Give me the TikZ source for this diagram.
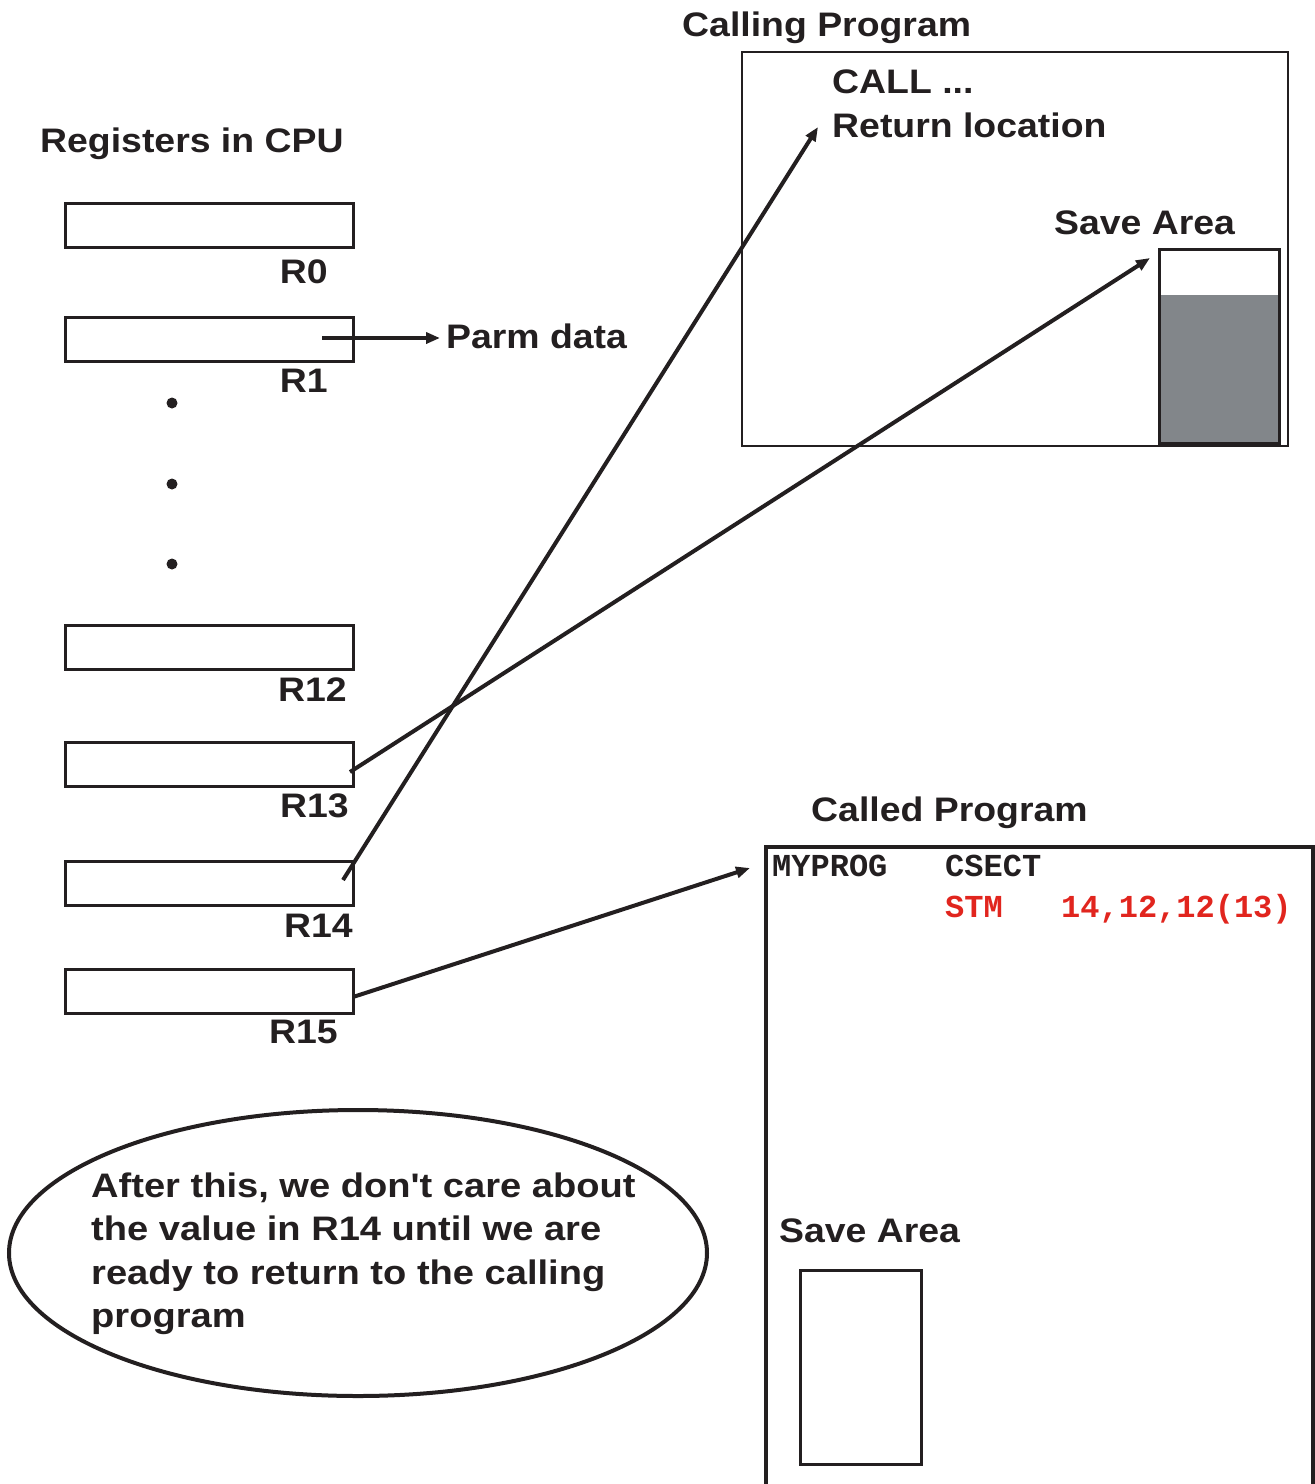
\documentclass[tikz,border=0pt]{standalone}
\usepackage{fontspec}
\setmainfont{Liberation Sans}[FakeStretch=1.1]
\newfontfamily\ellfont{Liberation Sans}[FakeStretch=1.12]
\newfontfamily\codefont{Liberation Mono}
\usetikzlibrary{arrows.meta,shapes.geometric}
\definecolor{ink}{RGB}{35,31,32}
\definecolor{codered}{RGB}{225,37,30}
\definecolor{savegray}{RGB}{130,134,138}
\begin{document}
\begin{tikzpicture}[x=1pt,y=-1pt,
  lbl/.style={inner sep=0pt, font=\fontsize{34}{40}\selectfont\bfseries, text=ink},
  code/.style={inner sep=0pt, font=\fontsize{32}{38}\selectfont\codefont\bfseries},
  reg/.style={draw=ink, line width=3pt, minimum width=288pt, minimum height=44pt, inner sep=0pt},
  conn/.style={draw=ink, line width=4pt, -{Triangle[length=14pt,width=11pt]}},
  dotmark/.style={circle, fill=ink, minimum size=11pt, inner sep=0pt}
]
\useasboundingbox (0,0) rectangle (1315,1484);

% Registers
\node[lbl, anchor=base west] (regtitle) at (40,152) {Registers in CPU};
\node[reg] (R0) at (209,225) {};
\node[reg] (R1) at (209,339.5) {};
\node[reg] (R12) at (209,647.5) {};
\node[reg] (R13) at (209,764) {};
\node[reg] (R14) at (209,883) {};
\node[reg] (R15) at (209,991) {};
\node[lbl, anchor=base east] (lR0) at (328,283) {R0};
\node[lbl, anchor=base east] (lR1) at (328,392) {R1};
\node[lbl, anchor=base east] (lR12) at (347,701) {R12};
\node[lbl, anchor=base east] (lR13) at (349,817) {R13};
\node[lbl, anchor=base east] (lR14) at (353,937) {R14};
\node[lbl, anchor=base east] (lR15) at (338,1043) {R15};
\node[dotmark] (d1) at (172,403) {};
\node[dotmark] (d2) at (172,484) {};
\node[dotmark] (d3) at (172,564) {};

% Parm data
\coordinate (r1p) at (322,338);
\coordinate (parmtip) at (440,338);
\node[lbl, anchor=base west] (parm) at (446,348) {Parm data};
\draw[conn, line width=3.5pt] (r1p) -- (parmtip);

% Calling program
\node[lbl, anchor=base west] (calltitle) at (682,36) {Calling Program};
\draw[draw=ink, line width=2.5pt] (742,52) rectangle (1288,446);
\node[lbl, anchor=base west] (callstmt) at (832,93) {CALL ...};
\node[lbl, anchor=base west] (retloc) at (832,137) {Return location};
\node[lbl, anchor=base west] (savetitle1) at (1054,234) {Save Area};
\fill[savegray] (1159,295) rectangle (1279,443);
\draw[draw=ink, line width=3pt] (1159,249) rectangle (1279,443);

% Called program
\node[lbl, anchor=base west] (calledtitle) at (811,821) {Called Program};
\draw[draw=ink, line width=3.5pt] (766,1484) -- (766,847) -- (1313,847) -- (1313,1484);
\node[code, anchor=base west, text=ink] (myprog) at (772,876) {MYPROG};
\node[code, anchor=base west, text=ink] (csect) at (945,876) {CSECT};
\node[code, anchor=base west, text=codered] (stm) at (945,917) {STM};
\node[code, anchor=base west, text=codered] (stmops) at (1061,917) {14,12,12(13)};
\node[lbl, anchor=base west] (savetitle2) at (779,1242) {Save Area};
\draw[draw=ink, line width=3pt] (800,1270) rectangle (921,1464);

% Connectors
\coordinate (r13p) at (350,772);
\coordinate (savetip) at (1150,258);
\coordinate (r14p) at (343,880);
\coordinate (rettip) at (818,127);
\coordinate (r15p) at (353,997);
\coordinate (calledtip) at (750,868);
\draw[conn] (r13p) -- (savetip);
\draw[conn] (r14p) -- (rettip);
\draw[conn] (r15p) -- (calledtip);

% Note
\node[ellipse, draw=ink, line width=4pt, minimum width=698pt, minimum height=286pt, inner sep=0pt] (note) at (358,1253) {};
\node[inner sep=0pt, anchor=base west, align=left, text=ink,
      font=\fontsize{34}{43.5}\selectfont\ellfont\bfseries] (notetext) at (91,1327.5)
  {After this, we don't care about\\the value in R14 until we are\\ready to return to the calling\\program};
\end{tikzpicture}
\end{document}
